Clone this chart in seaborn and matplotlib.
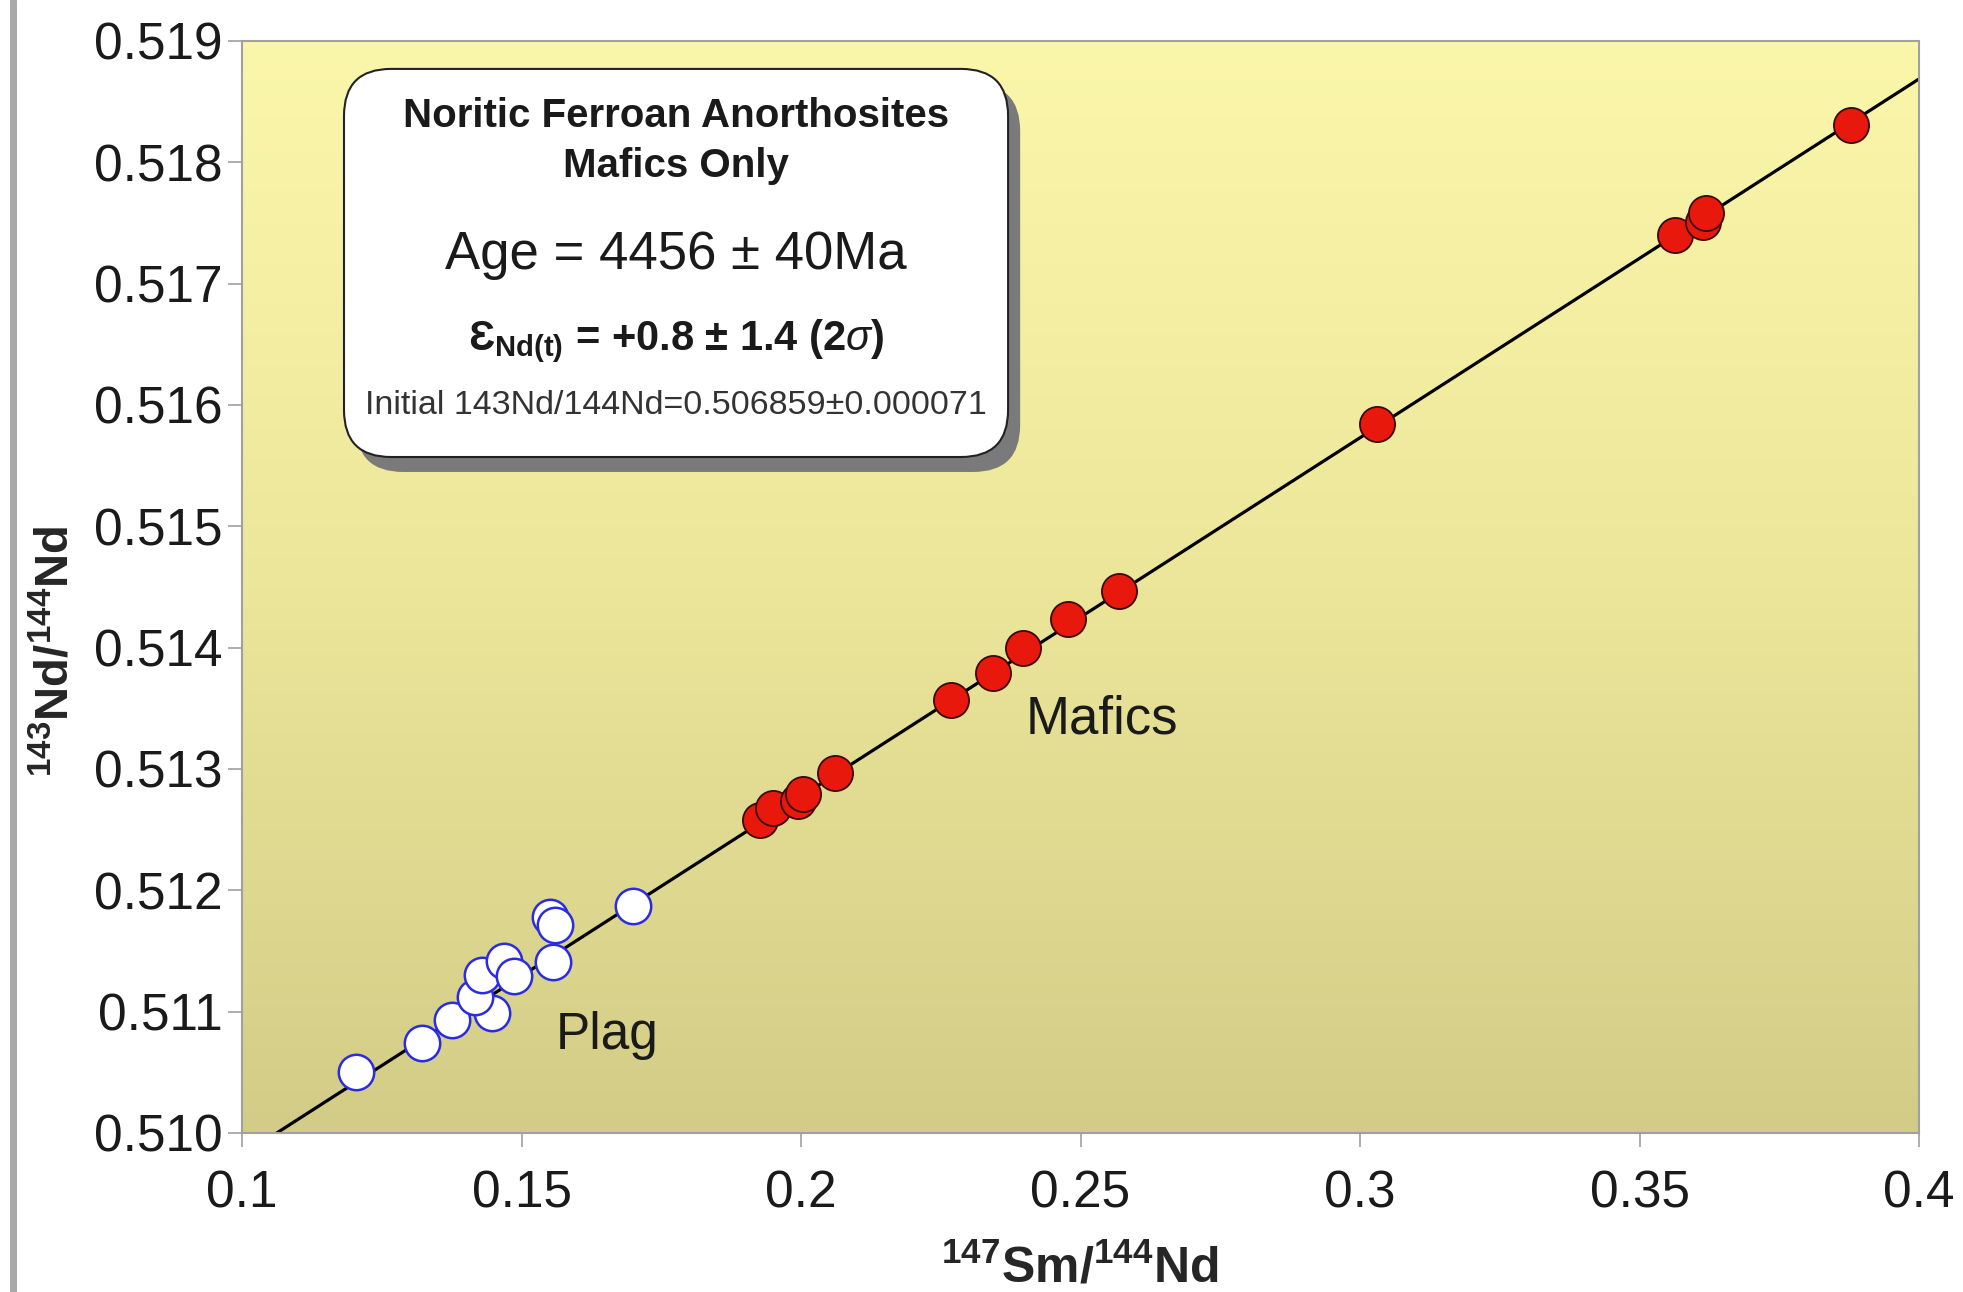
import numpy as np
import matplotlib.pyplot as plt
import seaborn as sns
from matplotlib.colors import LinearSegmentedColormap
from matplotlib.patches import FancyBboxPatch
from matplotlib.lines import Line2D

# 147Sm/144Nd vs 143Nd/144Nd, mafic separates (red)
mafic_x = [0.1927, 0.1949, 0.1994, 0.2003, 0.2061, 0.2269, 0.2343, 0.2397,
           0.2478, 0.2569, 0.3030, 0.3563, 0.3613, 0.3619, 0.3879]
mafic_y = [0.51258, 0.51268, 0.51274, 0.51279, 0.51297, 0.51357, 0.51379, 0.51400,
           0.51424, 0.51447, 0.51584, 0.51740, 0.51751, 0.51758, 0.51831]

# plagioclase separates (open circles)
plag_x = [0.1203, 0.1322, 0.1376, 0.1448, 0.1416, 0.1430, 0.1468, 0.1486,
          0.1557, 0.1551, 0.1560, 0.1699]
plag_y = [0.51050, 0.51074, 0.51093, 0.51099, 0.51112, 0.51130, 0.51142, 0.51129,
          0.51141, 0.51178, 0.51171, 0.51187]

# isochron: initial ratio and slope (4456 Ma)
iso_intercept = 0.506859
iso_slope = 0.02957

x_ticks = [0.1, 0.15, 0.2, 0.25, 0.3, 0.35, 0.4]
y_ticks = [0.510, 0.511, 0.512, 0.513, 0.514, 0.515, 0.516, 0.517, 0.518, 0.519]

sns.set_theme(style="ticks")
plt.rcParams["font.family"] = ["Liberation Sans", "DejaVu Sans"]
plt.rcParams["mathtext.fontset"] = "custom"
plt.rcParams["mathtext.rm"] = "Liberation Sans"
plt.rcParams["mathtext.bf"] = "Liberation Sans:bold"
plt.rcParams["mathtext.it"] = "Liberation Sans:italic"

fig, ax = plt.subplots(figsize=(19.63, 12.92), dpi=100)
fig.subplots_adjust(left=0.1233, right=0.9776, top=0.9683, bottom=0.1231)

# yellow gradient background
grad_cmap = LinearSegmentedColormap.from_list(
    "bg", ["#D2CC88", "#ECE69A", "#FBF7AA"])
ax.imshow(np.linspace(0, 1, 256).reshape(-1, 1), cmap=grad_cmap, origin="lower",
          extent=[0, 1, 0, 1], transform=ax.transAxes, aspect="auto", zorder=0)

ax.axline((0, iso_intercept), slope=iso_slope, color="black", lw=2.3, zorder=2)

sns.scatterplot(x=plag_x, y=plag_y, ax=ax, s=650, color="white",
                edgecolor="#2B2BE0", linewidth=1.8, zorder=3)
sns.scatterplot(x=mafic_x, y=mafic_y, ax=ax, s=640, color="#E8180C",
                edgecolor="#3A0800", linewidth=1.3, zorder=4)

ax.set_xlim(0.1, 0.4)
ax.set_ylim(0.510, 0.519)
ax.set_xticks(x_ticks)
ax.set_yticks(y_ticks)
ax.set_xticklabels([f"{v:g}" for v in x_ticks])
ax.set_yticklabels([f"{v:.3f}" for v in y_ticks])
ax.tick_params(axis="both", direction="out", length=10, width=1.2, color="#A0A0A0",
               labelsize=37, labelcolor="#1A1A1A")
ax.tick_params(axis="x", pad=16)
ax.tick_params(axis="y", pad=4)
for sp in ax.spines.values():
    sp.set_color("#A0A0A0")
    sp.set_linewidth(1.5)

ax.set_xlabel(r"$^{\mathbf{147}}$Sm/$^{\mathbf{144}}$Nd", fontsize=36, fontweight="bold",
              va="center")
ax.set_ylabel(r"$^{\mathbf{143}}$Nd/$^{\mathbf{144}}$Nd", fontsize=34, fontweight="bold",
              va="center")
ax.xaxis.set_label_coords(0.4997, -0.124)
ax.yaxis.set_label_coords(-0.111, 0.441)

ax.text(0.2538, 0.51341, "Mafics", fontsize=38, color="#1A1A1A", ha="center", va="center", zorder=5)
ax.text(0.1654, 0.51080, "Plag", fontsize=37, color="#1A1A1A", ha="center", va="center", zorder=5)

# annotation box with shadow
asp = 1677 / 1092
shadow = FancyBboxPatch((0.0608 + 0.0072, 0.619 - 0.0137), 0.396, 0.3554,
                        boxstyle="round,pad=0,rounding_size=0.028", mutation_aspect=asp,
                        transform=ax.transAxes, facecolor="#7A7A7A", edgecolor="none", zorder=6)
box = FancyBboxPatch((0.0608, 0.619), 0.396, 0.3554,
                     boxstyle="round,pad=0,rounding_size=0.028", mutation_aspect=asp,
                     transform=ax.transAxes, facecolor="white", edgecolor="#222222",
                     linewidth=1.5, zorder=7)
ax.add_patch(shadow)
ax.add_patch(box)

cx = 0.2588
ax.text(cx, 0.9315, "Noritic Ferroan Anorthosites", transform=ax.transAxes, fontsize=29,
        fontweight="bold", ha="center", va="center", color="#1A1A1A", zorder=8)
ax.text(cx, 0.8855, "Mafics Only", transform=ax.transAxes, fontsize=29,
        fontweight="bold", ha="center", va="center", color="#1A1A1A", zorder=8)
ax.text(cx, 0.804, "Age = 4456 ± 40Ma", transform=ax.transAxes, fontsize=38,
        ha="center", va="center", color="#1A1A1A", zorder=8)
ax.text(cx, 0.725, "Ɛ" + r"$_{\mathbf{Nd(t)}}$ = +0.8 ± 1.4 (2$\sigma$)",
        transform=ax.transAxes, fontsize=30, fontweight="bold",
        ha="center", va="center", color="#1A1A1A", zorder=8)
ax.text(cx, 0.6665, "Initial 143Nd/144Nd=0.506859±0.000071", transform=ax.transAxes,
        fontsize=24.5, ha="center", va="center", color="#333333", zorder=8)

# grey frame line at far left of the figure
fig.add_artist(Line2D([0.0066, 0.0066], [0, 1], transform=fig.transFigure,
                      color="#A8A8A8", lw=5))

fig.savefig("out.png", dpi=100)
